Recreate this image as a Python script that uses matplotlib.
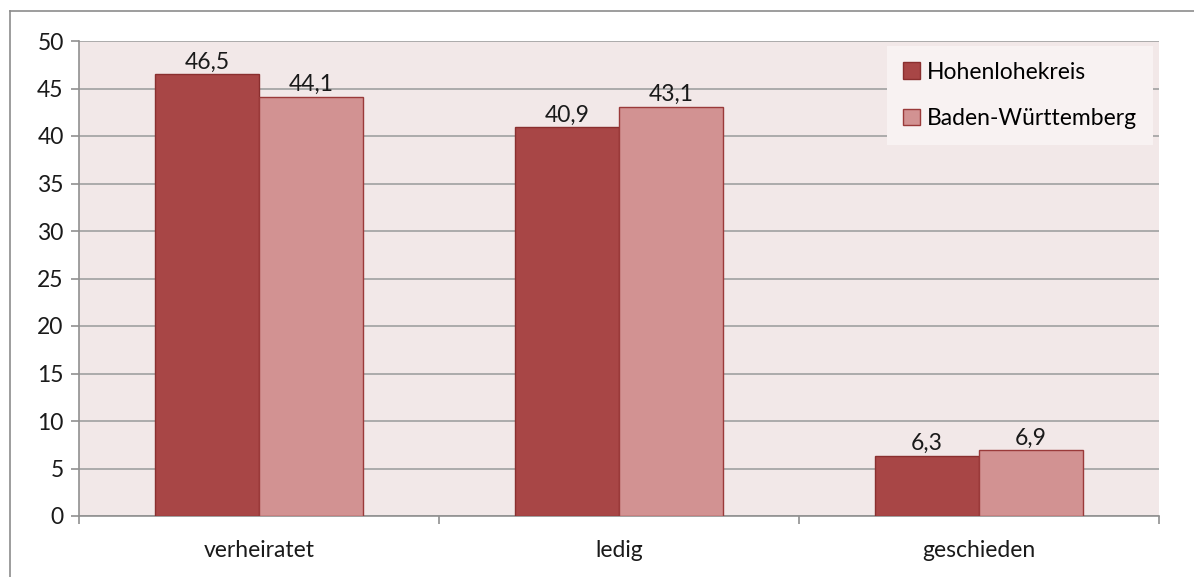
import numpy as np
import matplotlib
matplotlib.use("Agg")
import matplotlib.pyplot as plt
from matplotlib.lines import Line2D

categories = ["verheiratet", "ledig", "geschieden"]
hohenlohe = [46.5, 40.9, 6.3]
bawue = [44.1, 43.1, 6.9]
series_names = ["Hohenlohekreis", "Baden-Württemberg"]
yticks = [0, 5, 10, 15, 20, 25, 30, 35, 40, 45, 50]

plt.rcParams['font.family'] = ['Lato', 'DejaVu Sans']
fs = 16.5

fig = plt.figure(figsize=(11.94, 5.77), dpi=100)
ax = fig.add_axes([79/1194, 1-516/577, (1159-79)/1194, (516-41)/577])
ax.set_facecolor('#F2E8E8')

x = np.arange(len(categories))
w = 0.288
b1 = ax.bar(x - w/2, hohenlohe, w, color='#A84646', edgecolor='#8A2F2F', linewidth=1, label=series_names[0], zorder=3)
b2 = ax.bar(x + w/2, bawue, w, color='#D29292', edgecolor='#9A3A3A', linewidth=1, label=series_names[1], zorder=3)

for bars, vals in ((b1, hohenlohe), (b2, bawue)):
    for r, v in zip(bars, vals):
        ax.text(r.get_x() + r.get_width()/2, v + 0.2, f"{v:.1f}".replace('.', ','),
                ha='center', va='bottom', fontsize=fs, color='#1a1a1a', zorder=4)

ax.set_xlim(-0.5, len(categories) - 0.5)
ax.set_ylim(0, 50)
ax.set_yticks(yticks)
ax.set_yticklabels([str(t) for t in yticks], fontsize=fs, color='#1a1a1a')
ax.yaxis.grid(True, color='#A0A0A0', linewidth=1.2, zorder=1)
ax.set_axisbelow(True)

ax.set_xticks(x)
ax.set_xticklabels(categories, fontsize=fs, color='#1a1a1a')
ax.tick_params(axis='x', length=0, pad=17)
ax.set_xticks(np.arange(len(categories) + 1) - 0.5, minor=True)
ax.tick_params(axis='x', which='minor', length=6, color='#909090', width=1.2)
ax.tick_params(axis='y', length=6, color='#909090', width=1.2, pad=5)

for s in ['top', 'right']:
    ax.spines[s].set_visible(False)
ax.spines['left'].set_color('#909090')
ax.spines['bottom'].set_color('#909090')
ax.spines['left'].set_linewidth(1.2)
ax.spines['bottom'].set_linewidth(1.2)

leg = ax.legend(loc='upper right', bbox_to_anchor=(0.9945, 0.99), fontsize=fs, frameon=True,
                fancybox=False, handlelength=0.75, handleheight=0.75, handletextpad=0.3,
                labelspacing=1.1, borderpad=0.7, borderaxespad=0)
leg.get_frame().set_facecolor('#F8F2F2')
leg.get_frame().set_edgecolor('none')
leg.get_frame().set_alpha(1)

# outer frame (top and left)
fig.add_artist(Line2D([10/1194, 1], [1-11/577, 1-11/577], color='#8C8C8C', linewidth=1.2))
fig.add_artist(Line2D([10/1194, 10/1194], [0, 1-11/577], color='#8C8C8C', linewidth=1.2))

fig.savefig('out.png', dpi=100)
